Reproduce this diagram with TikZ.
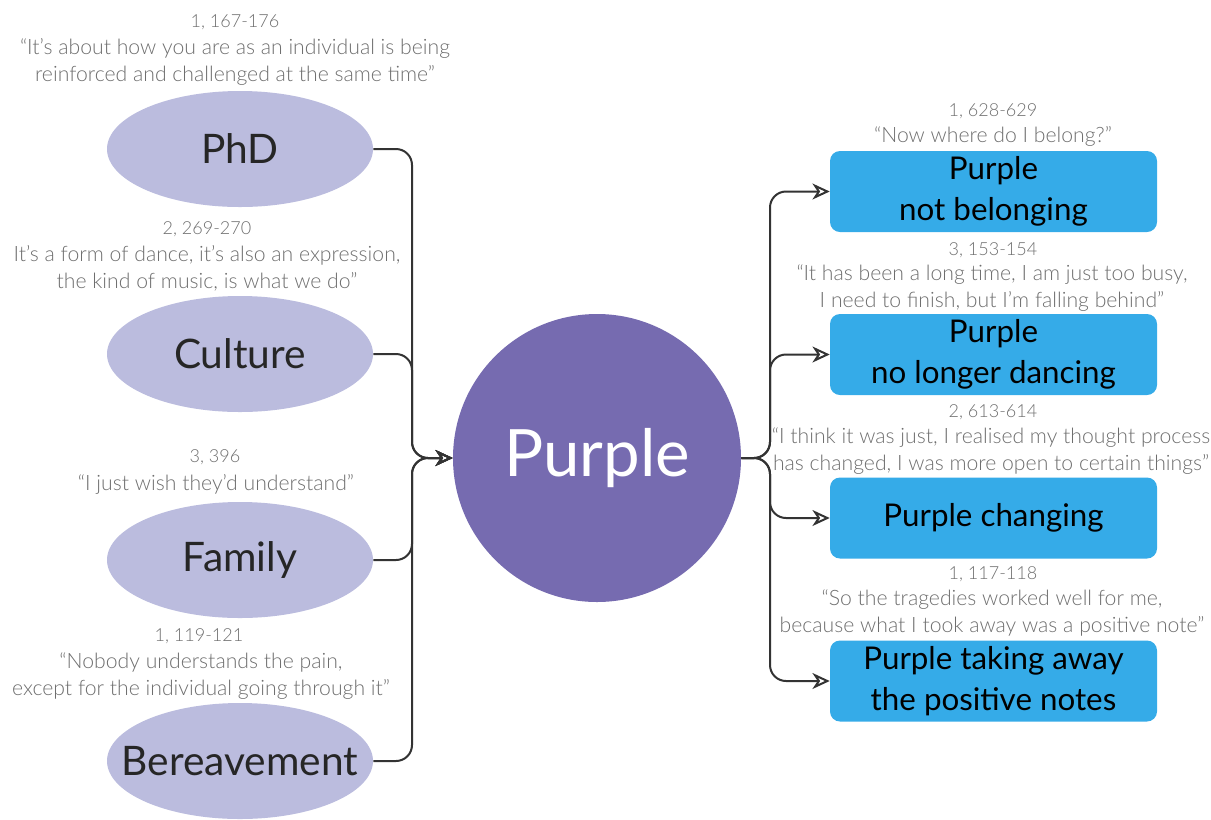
\documentclass[tikz,border=0pt]{standalone}
\usepackage{fontspec}
\setmainfont{Lato}
\newfontfamily\quotefont{Lato Light}
\usetikzlibrary{shapes.geometric,arrows.meta}
\definecolor{ovalfill}{HTML}{BBBCDE}
\definecolor{hubfill}{HTML}{766BB0}
\definecolor{boxfill}{HTML}{35ABE8}
\definecolor{quotegray}{HTML}{6E6E6E}
\definecolor{linegray}{HTML}{333333}
\begin{document}
\begin{tikzpicture}[x=0.75pt,y=-0.75pt,
  theme/.style={ellipse,fill=ovalfill,minimum width=199.5pt,minimum height=87pt,inner xsep=-20pt,inner ysep=0pt,
    text=black!85,font=\fontsize{30.5}{36}\selectfont},
  hub/.style={circle,fill=hubfill,minimum size=216pt,inner sep=0pt,text=white,font=\fontsize{49}{58}\selectfont},
  subbox/.style={rectangle,rounded corners=7.5pt,fill=boxfill,minimum width=245.25pt,minimum height=60.75pt,
    inner sep=0pt,align=center,text=black,font=\fontsize{23.5}{31}\selectfont},
  ref/.style={text=quotegray,inner sep=0pt,font=\quotefont\fontsize{13.5}{15}\selectfont},
  quote/.style={text=quotegray,inner sep=0pt,align=center,font=\quotefont\fontsize{15.9}{20.25}\selectfont},
  link/.style={draw=linegray,line width=1.5pt,rounded corners=12pt},
  tip/.style={-{Stealth[open,length=13pt,width=12pt,inset=4pt,line width=1.5pt]}}]
\useasboundingbox (0,0) rectangle (1211,819);

% central hub
\node[hub] (hub) at (597,458) {Purple};

% themes on the left
\node[theme] (phd) at (240,149) {PhD};
\node[theme] (cult) at (240,354) {Culture};
\node[theme] (fam) at (240,560) {Family};
\node[theme] (ber) at (240,761) {Bereavement};

% quotes for the themes
\node[ref] (r1) at (235,22) {1, 167-176};
\node[quote] (q1) at (235,62) {“It’s about how you are as an individual is being\\reinforced and challenged at the same time”};
\node[ref] (r2) at (207,229) {2, 269-270};
\node[quote] (q2) at (207,268) {It’s a form of dance, it’s also an expression,\\the kind of music, is what we do”};
\node[ref] (r3) at (215,457) {3, 396};
\node[quote] (q3) at (216,484) {“I just wish they’d understand”};
\node[ref] (r4) at (199,636) {1, 119-121};
\node[quote] (q4) at (201,676) {“Nobody understands the pain,\\except for the individual going through it”};

% outcomes on the right
\node[subbox] (b1) at (993.5,191.5) {Purple\\not belonging};
\node[subbox] (b2) at (993.5,354.5) {Purple\\no longer dancing};
\node[subbox] (b3) at (993.5,518) {Purple changing};
\node[subbox] (b4) at (993.5,681) {Purple taking away\\the positive notes};

% quotes for the outcomes
\node[ref] (r5) at (993,111) {1, 628-629};
\node[quote] (q5) at (993,136) {“Now where do I belong?”};
\node[ref] (r6) at (993,250) {3, 153-154};
\node[quote] (q6) at (992,288) {“It has been a long time, I am just too busy,\\I need to finish, but I’m falling behind”};
\node[ref] (r7) at (993,412) {2, 613-614};
\node[quote] (q7) at (991,451) {“I think it was just, I realised my thought process\\has changed, I was more open to certain things”};
\node[ref] (r8) at (993,574) {1, 117-118};
\node[quote] (q8) at (992,613) {“So the tragedies worked well for me,\\because what I took away was a positive note”};

% junction points
\coordinate (lj) at (412,458);
\coordinate (rj) at (770,458);

% themes feed the hub
\foreach \t in {phd,cult,fam,ber}
  \draw[link,tip] (\t.east) -| (lj) -- (hub.west);

% hub branches to outcomes
\foreach \b in {b1,b2,b3,b4}
  \draw[link,tip] (hub.east) -- (rj) |- (\b.west);
\end{tikzpicture}
\end{document}
